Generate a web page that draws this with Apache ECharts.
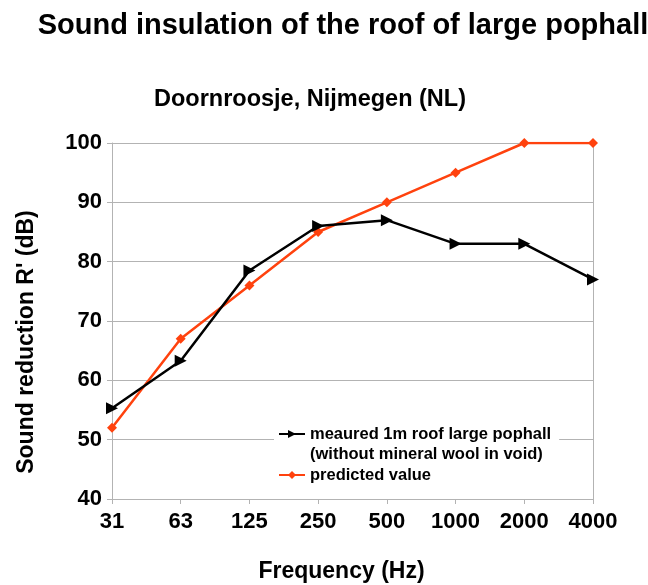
<!DOCTYPE html>
<html>
<head>
<meta charset="utf-8">
<script src="https://cdn.jsdelivr.net/npm/echarts@6/dist/echarts.min.js"></script>
<style>
  html, body { margin: 0; padding: 0; background: #fff; }
  #chart { width: 648px; height: 585px; }
</style>
</head>
<body>
<div id="chart"></div>
<script>
const frequencies = ['31', '63', '125', '250', '500', '1000', '2000', '4000']
const measured = [55.3, 63.3, 78.5, 86, 87, 83, 83, 77]
const predicted = [52, 67, 76, 85, 90, 95, 100, 100]
const measuredName = 'meaured 1m roof large pophall\n(without mineral wool in void)'
const predictedName = 'predicted value'

const font = 'Liberation Sans, Arial, sans-serif'
const myChart = echarts.init(document.getElementById('chart'))

const option = {
  animation: false,
  title: [
    {
      text: 'Sound insulation of the roof of large pophall',
      left: 338,
      top: 6,
      textAlign: 'center',
      textStyle: { fontFamily: font, fontSize: 29, fontWeight: 'bold', color: '#000' }
    },
    {
      text: 'Doornroosje, Nijmegen (NL)',
      left: 305,
      top: 83,
      textAlign: 'center',
      textStyle: { fontFamily: font, fontSize: 23.5, fontWeight: 'bold', color: '#000' }
    }
  ],
  legend: {
    orient: 'vertical',
    left: 274,
    top: 400,
    backgroundColor: '#fff',
    padding: [4, 8, 4, 4],
    itemGap: 1,
    itemWidth: 26,
    itemHeight: 10,
    // blank first line so the icon sits beside the first text line
    formatter: (name) => (name === measuredName ? ' \n' + name : name),
    textStyle: { fontFamily: font, fontSize: 16.5, fontWeight: 'bold', color: '#000', lineHeight: 20 },
    data: [measuredName, predictedName]
  },
  grid: {
    left: 112,
    right: 55,
    top: 143,
    bottom: 86,
    outerBoundsMode: 'none'
  },
  xAxis: {
    type: 'category',
    data: frequencies,
    boundaryGap: false,
    name: 'Frequency (Hz)',
    nameLocation: 'middle',
    nameGap: 61,
    nameTextStyle: { fontFamily: font, fontSize: 23, fontWeight: 'bold', color: '#000', padding: [0, 22, 0, 0] },
    axisLine: { lineStyle: { color: '#b3b3b3' } },
    axisTick: { show: true, alignWithLabel: true, length: 5, lineStyle: { color: '#b3b3b3' } },
    axisLabel: { fontFamily: font, fontSize: 22, fontWeight: 'bold', color: '#000', margin: 12 },
    splitLine: { show: false }
  },
  yAxis: [
    {
      type: 'value',
      min: 40,
      max: 100,
      interval: 10,
      name: "Sound reduction R' (dB)",
      nameLocation: 'middle',
      nameGap: 74,
      nameTextStyle: { fontFamily: font, fontSize: 23, fontWeight: 'bold', color: '#000', padding: [0, 42, 0, 0] },
      axisLine: { show: true, lineStyle: { color: '#b3b3b3' } },
      axisTick: { show: true, length: 5, lineStyle: { color: '#b3b3b3' } },
      axisLabel: { fontFamily: font, fontSize: 22, fontWeight: 'bold', color: '#000', margin: 10 },
      splitLine: { lineStyle: { color: '#b3b3b3' } }
    },
    {
      type: 'value',
      min: 40,
      max: 100,
      interval: 10,
      position: 'right',
      axisLine: { show: true, lineStyle: { color: '#b3b3b3' } },
      axisTick: { show: false },
      axisLabel: { show: false },
      splitLine: { show: false }
    }
  ],
  series: [
    {
      name: measuredName,
      type: 'line',
      data: measured,
      symbol: 'triangle',
      symbolRotate: -90,
      symbolSize: 12,
      lineStyle: { color: '#000', width: 2.5 },
      itemStyle: { color: '#000' },
      z: 3
    },
    {
      name: predictedName,
      type: 'line',
      data: predicted,
      symbol: 'diamond',
      symbolSize: 10,
      lineStyle: { color: '#ff420e', width: 2.5 },
      itemStyle: { color: '#ff420e' },
      z: 2
    }
  ]
}
myChart.setOption(option)
</script>
</body>
</html>
